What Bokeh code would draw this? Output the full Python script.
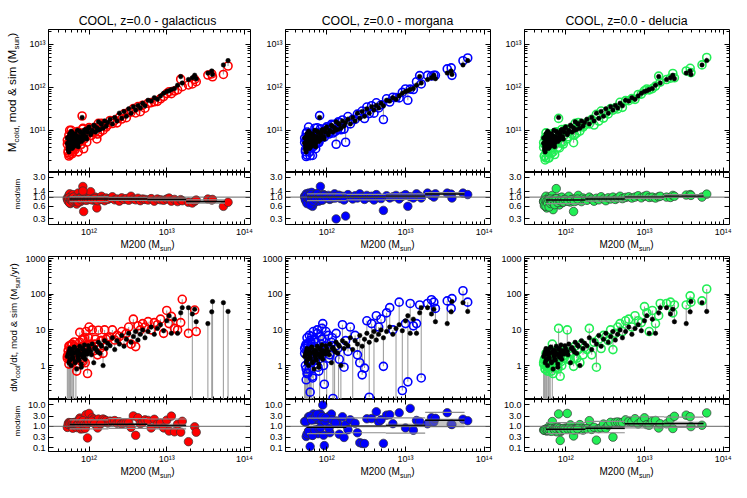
import numpy as np
from bokeh.plotting import figure
from bokeh.models import LogAxis, FixedTicker, PrintfTickFormatter, Range1d, Span, Div
from bokeh.layouts import column, row
from bokeh.embed import file_html
from bokeh.resources import INLINE

FONT = "Liberation Sans"

# ---------------- data ----------------
models = ["galacticus", "morgana", "delucia"]
model_colors = ["#ff0000", "#0000ff", "#22ee55"]

log_m200 = [
    11.72, 11.73, 11.74, 11.74, 11.75, 11.75, 11.76, 11.76, 11.77, 11.77,
    11.78, 11.78, 11.79, 11.80, 11.80, 11.81, 11.82, 11.83, 11.84, 11.85,
    11.86, 11.87, 11.88, 11.89, 11.90, 11.91, 11.92, 11.93, 11.94, 11.95,
    11.96, 11.98, 12.00, 12.02, 12.04, 12.06, 12.08, 12.10, 12.12, 12.14,
    12.16, 12.18, 12.20, 12.22, 12.24, 12.27, 12.30, 12.33, 12.36, 12.39,
    12.42, 12.45, 12.48, 12.51, 12.54, 12.57, 12.60, 12.63, 12.66, 12.69,
    12.72, 12.76, 12.80, 12.84, 12.88, 12.92, 12.96, 13.00, 13.03, 13.06,
    13.10, 13.14, 13.18, 13.20, 13.28, 13.33, 13.36, 13.38, 13.53, 13.58,
    13.59, 13.73, 13.79,
    11.72, 11.73, 11.74, 11.75, 11.76, 11.77, 11.78, 11.79, 11.80, 11.81,
    11.82, 11.83, 11.85, 11.86, 11.88, 11.90, 11.92, 11.94, 11.97, 11.99,
    12.03, 12.07, 12.11, 12.15]

log_mcold_sim = [
    10.70, 10.55, 10.85, 10.50, 10.72, 10.92, 10.62, 10.78, 10.66, 10.98,
    10.74, 10.58, 10.83, 10.69, 10.90, 10.77, 10.64, 10.88, 10.80, 11.00,
    10.70, 10.86, 10.76, 10.95, 10.82, 11.30, 10.78, 10.92, 10.84, 11.02,
    10.86, 10.96, 11.08, 10.90, 11.00, 11.12, 10.96, 11.06, 11.20, 11.02,
    11.14, 11.05, 11.22, 11.10, 11.18, 11.26, 11.15, 11.30, 11.22, 11.40,
    11.28, 11.44, 11.33, 11.50, 11.40, 11.55, 11.47, 11.58, 11.52, 11.63,
    11.57, 11.70, 11.68, 11.76, 11.72, 11.80, 11.86, 11.90, 11.92, 11.95,
    11.97, 12.05, 12.25, 12.10, 12.18, 12.22, 12.28, 12.20, 12.33, 12.38,
    12.30, 12.52, 12.62,
    10.82, 10.62, 10.74, 10.58, 10.88, 10.70, 10.95, 10.60, 10.80, 10.68,
    10.92, 10.72, 10.85, 10.62, 10.98, 10.74, 10.90, 11.00, 10.80, 11.05,
    10.95, 11.10, 11.00, 11.16]

cold_ratio_galacticus = [
    0.95, 0.85, 1.10, 0.80, 0.92, 1.20, 0.88, 0.70, 0.98, 1.05,
    0.90, 0.75, 1.15, 0.86, 0.95, 0.93, 0.82, 1.00, 0.68, 0.94,
    1.25, 0.88, 0.97, 0.78, 0.90, 1.08, 1.80, 0.45, 0.92, 0.85,
    1.02, 0.88, 0.96, 1.35, 0.90, 0.84, 1.00, 0.55, 0.92, 0.87,
    1.05, 0.90, 0.82, 0.95, 0.88, 0.93, 1.02, 0.86, 0.90, 0.80,
    0.96, 0.88, 0.92, 0.84, 1.05, 0.90, 0.86, 0.94, 0.82, 0.90,
    0.88, 0.85, 0.92, 0.80, 0.90, 0.86, 0.84, 0.90, 0.95, 0.80,
    0.88, 0.78, 0.87, 0.82, 0.75, 0.72, 0.80, 0.85, 0.90, 0.85,
    0.88, 0.60, 0.75,
    0.90, 0.80, 0.95, 0.72, 0.88, 0.85, 0.92, 0.78, 1.00, 0.82,
    0.86, 0.90, 0.80, 0.76, 0.92, 0.86, 1.40, 0.88, 0.84, 0.90,
    0.86, 0.92, 0.82, 0.88]

cold_ratio_morgana = [
    1.05, 0.90, 1.20, 0.78, 1.00, 1.10, 0.95, 0.75, 1.08, 1.25,
    0.98, 0.82, 1.15, 0.90, 1.02, 1.30, 0.60, 1.05, 0.72, 1.12,
    0.96, 1.20, 0.88, 1.00, 0.80, 1.10, 1.80, 0.92, 1.05, 0.85,
    1.15, 0.95, 1.00, 1.10, 0.88, 1.05, 0.95, 1.20, 0.30, 1.00,
    1.10, 0.92, 1.05, 0.85, 0.35, 1.15, 1.00, 0.90, 1.08, 0.95,
    1.20, 1.02, 0.88, 1.10, 0.98, 1.05, 0.85, 1.15, 1.00, 0.92,
    0.48, 1.08, 0.95, 1.02, 1.10, 0.90, 1.05, 1.15, 0.60, 1.02,
    0.95, 1.20, 1.05, 0.95, 1.25, 1.10, 1.00, 1.20, 1.25, 1.18,
    0.95, 1.25, 1.15,
    1.00, 0.85, 1.10, 0.70, 0.95, 1.05, 0.90, 0.65, 1.15, 0.95,
    1.00, 0.80, 1.08, 0.90, 1.20, 0.95, 1.05, 0.85, 1.10, 1.00,
    0.92, 1.05, 0.95, 1.10]

cold_ratio_delucia = [
    0.80, 0.70, 0.95, 0.65, 0.85, 1.05, 0.75, 0.55, 0.90, 0.78,
    0.82, 0.60, 1.00, 0.72, 0.88, 0.80, 0.68, 1.10, 0.50, 0.85,
    0.92, 0.76, 1.60, 0.70, 0.84, 0.95, 0.65, 0.88, 0.78, 1.00,
    0.74, 0.86, 0.90, 0.80, 1.05, 0.76, 0.88, 0.45, 0.92, 0.82,
    1.10, 0.86, 0.78, 0.95, 0.88, 0.84, 1.00, 0.90, 0.80, 0.94,
    0.86, 1.02, 0.90, 0.82, 0.96, 0.90, 1.00, 0.88, 0.95, 1.05,
    0.92, 0.98, 1.02, 0.95, 1.00, 1.08, 0.96, 1.05, 1.10, 0.98,
    1.00, 0.95, 1.02, 1.05, 1.00, 0.98, 1.10, 1.05, 1.12, 1.15,
    1.10, 1.00, 1.18,
    0.78, 0.62, 0.85, 0.60, 0.80, 0.72, 0.88, 0.58, 0.90, 0.70,
    0.82, 0.75, 0.86, 0.66, 0.92, 0.74, 0.84, 0.80, 0.76, 0.88,
    0.80, 0.86, 0.78, 0.90]

rate_sim = [
    1.8, 0, 2.5, 1.2, 0, 3.0, 1.5, 0, 2.0, 1.0,
    2.8, 0, 1.6, 2.2, 0, 3.2, 1.3, 2.4, 0.8, 1.9,
    2.6, 1.4, 3.5, 2.0, 1.1, 2.9, 1.7, 2.3, 3.8, 1.5,
    2.6, 2.1, 3.0, 2.5, 4.0, 1.2, 3.2, 2.7, 4.5, 2.2,
    3.5, 1.0, 5.0, 3.0, 4.2, 3.6, 6.0, 2.8, 5.0, 4.0,
    7.0, 3.5, 5.5, 8.0, 4.5, 6.5, 9.0, 5.2, 7.5, 10.0,
    6.0, 9.0, 12.0, 7.5, 11.0, 14.0, 9.5, 18.0, 25.0, 8.0,
    20.0, 8.0, 30.0, 42.0, 42.0, 28.0, 38.0, 17.0, 15.0, 32.0,
    62.0, 58.0, 33.0,
    0, 2.1, 0, 1.4, 0, 2.6, 0, 1.7, 0, 3.3,
    1.2, 0, 2.7, 1.6, 2.2, 0.9, 3.0, 1.9, 2.4, 3.6,
    2.0, 3.0, 2.4, 3.8]

rate_galacticus = [
    1.6, 2.0, 3.5, 1.8, 1.5, 3.5, 1.8, 2.8, 2.4, 1.3,
    4.0, 1.2, 1.3, 3.0, 2.5, 3.4, 2.0, 2.9, 0.7, 2.0,
    3.0, 2.0, 8.5, 1.5, 1.6, 5.2, 1.3, 3.6, 6.0, 1.2,
    9.0, 0.6, 12.0, 4.0, 10.0, 2.6, 5.5, 3.4, 9.8, 3.0,
    5.0, 2.2, 10.0, 5.5, 6.0, 6.3, 10.0, 5.2, 7.0, 6.5,
    9.0, 5.0, 8.0, 12.0, 4.0, 20.0, 3.4, 13.0, 10.0, 15.0,
    12.0, 17.0, 10.0, 16.0, 14.0, 20.0, 8.0, 35.0, 15.0, 24.0,
    11.0, 10.0, 16.0, 72.0, 8.0, 0, 36.0, 9.0, 0, 0,
    0, 0, 0,
    1.8, 2.6, 1.1, 1.9, 2.2, 3.8, 1.4, 2.3, 3.0, 4.6,
    1.8, 2.4, 3.2, 2.0, 4.5, 1.3, 5.5, 2.4, 3.0, 6.0,
    3.5, 4.0, 2.0, 5.0]

rate_morgana = [
    3.0, 1.0, 4.0, 0.4, 2.5, 6.0, 0.6, 3.5, 1.2, 2.8,
    7.0, 0.8, 0.18, 4.5, 1.5, 2.0, 0.5, 9.0, 1.6, 5.5,
    1.4, 3.0, 10.0, 0.9, 2.2, 0, 6.5, 4.0, 11.0, 15.0,
    1.0, 3.5, 0, 7.0, 2.0, 4.5, 0.12, 0, 8.0, 3.0,
    1.5, 0, 14.0, 0.9, 5.0, 2.5, 12.0, 0, 7.0, 2.0,
    1.2, 0.55, 0.85, 18.0, 0.13, 15.0, 0, 25.0, 12.0, 20.0,
    0.95, 30.0, 42.0, 10.0, 0, 60.0, 0.2, 15.0, 0.35, 55.0,
    13.0, 15.0, 50.0, 0.45, 55.0, 70.0, 60.0, 40.0, 65.0, 40.0,
    75.0, 125.0, 60.0,
    2.2, 3.5, 0.8, 0.6, 4.0, 1.5, 2.8, 5.0, 1.2, 6.5,
    0.45, 3.0, 1.8, 4.5, 8.0, 0.7, 2.5, 5.5, 0.3, 9.0,
    1.6, 6.0, 3.5, 0]

rate_delucia = [
    1.2, 1.5, 1.6, 0.8, 1.0, 2.2, 0.9, 2.0, 1.3, 0.7,
    2.5, 0.9, 1.0, 1.9, 1.3, 2.0, 1.0, 4.0, 0.6, 1.2,
    2.2, 0.85, 2.4, 1.1, 0.9, 11.0, 1.4, 0.5, 2.2, 1.0,
    1.8, 1.6, 2.5, 10.0, 3.0, 1.4, 2.4, 0.95, 3.5, 1.6,
    2.8, 1.2, 4.0, 2.0, 3.2, 2.8, 11.0, 2.0, 4.5, 0.9,
    5.5, 3.0, 7.0, 6.5, 5.0, 10.0, 2.8, 8.0, 12.0, 15.0,
    9.0, 18.0, 20.0, 12.0, 25.0, 18.0, 16.0, 45.0, 30.0, 9.0,
    35.0, 15.0, 25.0, 55.0, 55.0, 60.0, 30.0, 50.0, 50.0, 90.0,
    60.0, 65.0, 140.0,
    1.1, 1.4, 0.8, 1.0, 1.6, 1.8, 0.9, 1.2, 2.0, 2.6,
    0.7, 1.5, 2.0, 1.1, 1.7, 0.8, 2.4, 1.3, 1.9, 2.6,
    1.5, 2.2, 1.6, 2.9]

# binned statistics of mod/sim (bins in log M200)
bin_edges_log = [11.75, 12.25, 12.75, 13.25, 13.75]

cold_median = {"galacticus": [0.90, 0.90, 0.88, 0.78],
               "morgana":    [1.00, 1.00, 1.05, 1.18],
               "delucia":    [0.85, 0.90, 1.00, 1.05]}
cold_p_lo = {"galacticus": [0.78, 0.83, 0.82, 0.72],
             "morgana":    [0.82, 0.86, 0.88, 1.02],
             "delucia":    [0.70, 0.80, 0.93, 1.00]}
cold_p_hi = {"galacticus": [1.03, 0.98, 0.94, 0.86],
             "morgana":    [1.20, 1.16, 1.20, 1.28],
             "delucia":    [1.00, 1.00, 1.06, 1.15]}
cold_box_lo = {"galacticus": [0.86, 0.87, 0.85, 0.72],
               "morgana":    [0.96, 0.97, 1.00, 1.10],
               "delucia":    [0.82, 0.87, 0.96, 1.00]}
cold_box_hi = {"galacticus": [0.94, 0.93, 0.92, 0.82],
               "morgana":    [1.04, 1.04, 1.12, 1.25],
               "delucia":    [0.89, 0.94, 1.04, 1.12]}

rate_median = {"galacticus": [1.20, 1.25, 1.10],
               "morgana":    [0.90, 1.00, 1.10, 1.90],
               "delucia":    [0.72, 0.80, 1.30, 1.35]}
rate_p_lo = {"galacticus": [0.75, 0.80, 0.75],
             "morgana":    [0.45, 0.50, 0.48, 0.95],
             "delucia":    [0.45, 0.50, 0.85, 0.90]}
rate_p_hi = {"galacticus": [2.00, 2.30, 2.20],
             "morgana":    [2.40, 2.50, 2.50, 4.50],
             "delucia":    [1.50, 1.70, 2.80, 2.70]}
rate_box_lo = {"galacticus": [1.05, 1.10, 0.90],
               "morgana":    [0.80, 0.88, 0.90, 1.05],
               "delucia":    [0.62, 0.70, 1.10, 1.10]}
rate_box_hi = {"galacticus": [1.40, 1.45, 1.35],
               "morgana":    [1.05, 1.15, 1.35, 2.30],
               "delucia":    [0.85, 0.95, 1.55, 1.70]}

# axis ticks / labels
x_ticks = [1e12, 1e13, 1e14]
x_tick_labels = {1e12: "10¹²", 1e13: "10¹³", 1e14: "10¹⁴"}
cold_ticks = [1e11, 1e12, 1e13]
cold_tick_labels = {1e11: "10¹¹", 1e12: "10¹²", 1e13: "10¹³"}
rate_ticks = [1.0, 10.0, 100.0, 1000.0]
ratio_cold_ticks = [0.3, 0.6, 1.0, 1.4, 3.0]
ratio_rate_ticks = [0.1, 0.3, 1.0, 3.0, 10.0]

COLD_RATIO = {"galacticus": cold_ratio_galacticus, "morgana": cold_ratio_morgana,
              "delucia": cold_ratio_delucia}
RATE_MOD = {"galacticus": rate_galacticus, "morgana": rate_morgana, "delucia": rate_delucia}
COLORS = dict(zip(models, model_colors))

# ---------------- layout constants ----------------
X_RANGE = (3.0e11, 1.2e14)
Y_RANGES = {"A": (1.05e10, 2.2e13), "B": (0.22, 3.9), "C": (0.112, 1140.0), "D": (0.066, 18.0)}
FW = 205
GUTTER = 22
LEFT = [23, 30, 29]
RIGHT = [5, 5, 10]
GEOM = {"A": (0, 143, 0), "B": (0, 54, 13), "C": (5, 143, 0), "D": (0, 54, 13)}
TITLE_H = 29
XLAB_H = 12
TOTAL_H = TITLE_H + 143 + 67 + XLAB_H + 148 + 67 + XLAB_H
FLOOR = 1e-4

x_minor = [m * 10.0 ** e for e in (11, 12, 13) for m in range(2, 10)]
cold_minor = [m * 10.0 ** e for e in (10, 11, 12, 13) for m in range(2, 10)]
rate_minor = [m * 10.0 ** e for e in (-1, 0, 1, 2) for m in range(2, 10)]

CSS_FONT = "font-family:'Liberation Sans',Arial,sans-serif;color:#000;white-space:nowrap;"


def sub(t, size, drop):
    return f'<span style="font-size:{size}px;position:relative;top:{drop}px;">{t}</span>'


def box(inner, left, top, width, font, lh, extra=""):
    return (f'<div style="position:absolute;left:{left}px;top:{top}px;width:{width}px;'
            f'font-size:{font}px;line-height:{lh}px;text-align:center;{CSS_FONT}{extra}">'
            f'{inner}</div>')


def text_div(inner_html, width, height):
    html = (f'<div style="position:relative;width:{width}px;height:{height}px;'
            f'overflow:visible;">{inner_html}</div>')
    return Div(text=html, width=width, height=height, margin=(0, 0, 0, 0),
               styles={"overflow": "visible"})


def style_axis(ax, ticks, minor, show, fmt=None, overrides=None, standoff=3):
    ax.ticker = FixedTicker(ticks=ticks, minor_ticks=minor)
    ax.axis_line_color = None
    ax.major_tick_in = 5
    ax.major_tick_out = 0
    ax.minor_tick_in = 3
    ax.minor_tick_out = 0
    ax.major_tick_line_color = "black"
    ax.minor_tick_line_color = "black"
    ax.major_tick_line_width = 1
    ax.minor_tick_line_width = 1
    if show:
        ax.major_label_text_font = FONT
        ax.major_label_text_font_size = "9px"
        ax.major_label_text_color = "black"
        ax.major_label_standoff = standoff
        if fmt is not None:
            ax.formatter = fmt
        if overrides:
            ax.major_label_overrides = overrides
    else:
        ax.major_label_text_font_size = "0px"
        ax.major_label_text_color = None
        ax.major_label_standoff = 0


def make_panel(ci, model, kind):
    top, fh, bot = GEOM[kind]
    L, R = LEFT[ci], RIGHT[ci]
    p = figure(width=L + FW + R, height=top + fh + bot,
               x_axis_type="log", y_axis_type="log",
               x_range=Range1d(*X_RANGE), y_range=Range1d(*Y_RANGES[kind]),
               output_backend="svg", toolbar_location=None,
               min_border_left=L, min_border_right=R,
               min_border_top=top, min_border_bottom=bot)
    p.xgrid.visible = False
    p.ygrid.visible = False
    p.outline_line_color = "black"
    p.outline_line_width = 1
    p.outline_line_alpha = 1
    p.background_fill_color = "white"
    p.border_fill_color = "white"

    main = kind in "AC"
    cold = kind in "AB"
    color = COLORS[model]

    m = 10.0 ** np.array(log_m200)
    if cold:
        sim = 10.0 ** np.array(log_mcold_sim)
        mod = sim * np.array(COLD_RATIO[model])
    else:
        sim = np.array(rate_sim, dtype=float)
        mod = np.array(RATE_MOD[model], dtype=float)

    if main:
        y0 = np.where(sim > 0, sim, FLOOR)
        y1 = np.where(mod > 0, mod, FLOOR)
        p.segment(x0=m, y0=y0, x1=m, y1=y1, line_color="#a0a0a0", line_width=1.1)
        k = mod > 0
        p.scatter(x=m[k], y=mod[k], marker="circle", size=8, fill_color=None,
                  line_color=color, line_width=1.6)
        k = sim > 0
        p.scatter(x=m[k], y=sim[k], marker="circle", size=4.5, fill_color="black",
                  line_color="black", line_width=0.5)
    else:
        k = (sim > 0) & (mod > 0)
        p.scatter(x=m[k], y=mod[k] / sim[k], marker="circle", size=8.5,
                  fill_color=color, line_color="#333333", line_width=0.7)
        if cold:
            med, plo, phi, blo, bhi = (cold_median[model], cold_p_lo[model], cold_p_hi[model],
                                       cold_box_lo[model], cold_box_hi[model])
        else:
            med, plo, phi, blo, bhi = (rate_median[model], rate_p_lo[model], rate_p_hi[model],
                                       rate_box_lo[model], rate_box_hi[model])
        edges = 10.0 ** np.array(bin_edges_log)
        nb = len(med)
        le, ri = edges[:nb], edges[1:nb + 1]
        p.quad(left=le, right=ri, bottom=blo, top=bhi, fill_color="#8c8c8c",
               fill_alpha=0.5, line_color=None)
        p.segment(x0=le, y0=plo, x1=ri, y1=plo, line_color="#8c8c8c", line_width=1.2)
        p.segment(x0=le, y0=phi, x1=ri, y1=phi, line_color="#8c8c8c", line_width=1.2)
        p.segment(x0=le, y0=med, x1=ri, y1=med, line_color="black", line_width=1.5)
        p.add_layout(Span(location=1.0, dimension="width", line_color="#666666",
                          line_width=1))

    # axes on all four sides, ticks pointing inward
    top_ax = LogAxis()
    right_ax = LogAxis()
    p.add_layout(top_ax, "above")
    p.add_layout(right_ax, "right")
    style_axis(p.below[0], x_ticks, x_minor, not main, overrides=x_tick_labels, standoff=2)
    style_axis(top_ax, x_ticks, x_minor, False)
    if kind == "A":
        yt, ym, fmt, ov = cold_ticks, cold_minor, None, cold_tick_labels
    elif kind == "C":
        yt, ym, fmt, ov = rate_ticks, rate_minor, PrintfTickFormatter(format="%d"), None
    elif kind == "B":
        yt, ym, fmt, ov = ratio_cold_ticks, [], PrintfTickFormatter(format="%.1f"), None
    else:
        yt, ym, fmt, ov = ratio_rate_ticks, [], PrintfTickFormatter(format="%.1f"), None
    style_axis(p.left[0], yt, ym, True, fmt=fmt, overrides=ov)
    style_axis(right_ax, yt, ym, False)
    return p


def make_column(ci, model):
    L, R = LEFT[ci], RIGHT[ci]
    W = L + FW + R
    title = text_div(box(f"COOL, z=0.0 - {model}", L, 13.7, FW, 12.3, 14), W, TITLE_H)
    xlab = "M200 (M" + sub("sun", 7, 3) + ")"
    xl1 = text_div(box(xlab, L, 0.5, FW, 10, 10), W, XLAB_H)
    xl2 = text_div(box(xlab, L, 0.5, FW, 10, 10), W, XLAB_H)
    return column(title, make_panel(ci, model, "A"), make_panel(ci, model, "B"), xl1,
                  make_panel(ci, model, "C"), make_panel(ci, model, "D"), xl2)


# left gutter holding the y-axis titles of the first column (rotated text)
ROT = "transform-origin:0 0;transform:rotate(-90deg);"
ylab_cold = "M" + sub("cold,", 8, 2.5) + " mod &amp; sim (M" + sub("sun", 8, 2.5) + ")"
ylab_rate = ("dM" + sub("cool", 7, 2.5) + "/dt, mod &amp; sim (M" + sub("sun", 7, 2.5)
             + "/yr)")
gutter_html = (box(ylab_cold, 7.3, 163.5, 143, 11.8, 11.8, ROT)
               + box("mod/sim", 13.5, 221, 54, 8, 8, ROT)
               + box(ylab_rate, 8.7, 398.5, 143, 9.8, 9.8, ROT)
               + box("mod/sim", 13.5, 448, 54, 8, 8, ROT))
gutter = text_div(gutter_html, GUTTER, TOTAL_H)

layout = row(gutter, *[make_column(ci, mdl) for ci, mdl in enumerate(models)])

open("out.html", "w").write(file_html(layout, INLINE))
